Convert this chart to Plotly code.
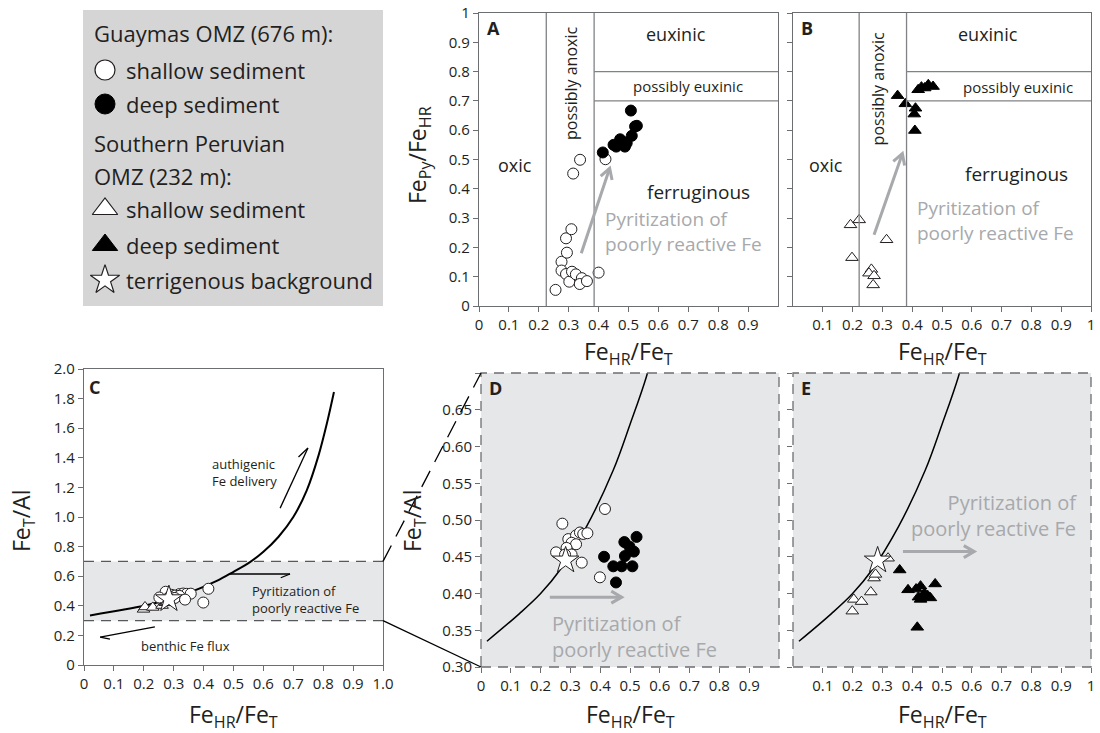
import math
import plotly.graph_objects as go

# ---------------- data ----------------
# Panel A: Guaymas OMZ, Fe_HR/Fe_T (x) vs Fe_Py/Fe_HR (y)
gu_shallow_A_x = [0.256, 0.276, 0.276, 0.291, 0.309, 0.294, 0.291, 0.302, 0.311, 0.324, 0.344, 0.337, 0.361, 0.400, 0.315, 0.338, 0.423]
gu_shallow_A_y = [0.055, 0.151, 0.121, 0.231, 0.262, 0.182, 0.109, 0.083, 0.117, 0.108, 0.095, 0.075, 0.085, 0.114, 0.452, 0.499, 0.501]
gu_deep_A_x = [0.414, 0.450, 0.459, 0.472, 0.481, 0.488, 0.494, 0.508, 0.511, 0.522, 0.528]
gu_deep_A_y = [0.524, 0.550, 0.544, 0.569, 0.561, 0.544, 0.556, 0.667, 0.581, 0.613, 0.615]

# Panel B: Southern Peruvian OMZ
pe_shallow_B_x = [0.193, 0.222, 0.198, 0.314, 0.263, 0.255, 0.272, 0.269]
pe_shallow_B_y = [0.277, 0.294, 0.165, 0.226, 0.125, 0.112, 0.103, 0.072]
pe_deep_B_x = [0.351, 0.377, 0.411, 0.407, 0.409, 0.420, 0.431, 0.442, 0.454, 0.470]
pe_deep_B_y = [0.718, 0.690, 0.675, 0.655, 0.599, 0.738, 0.747, 0.744, 0.755, 0.749]

# Panels C-E: Fe_HR/Fe_T (x) vs Fe_T/Al (y)
gu_shallow_D_x = [0.273, 0.416, 0.252, 0.293, 0.319, 0.332, 0.343, 0.357, 0.304, 0.319, 0.287, 0.304, 0.338, 0.399, 0.282]
gu_shallow_D_y = [0.495, 0.515, 0.456, 0.474, 0.479, 0.483, 0.481, 0.482, 0.469, 0.467, 0.462, 0.453, 0.442, 0.422, 0.453]
gu_deep_D_x = [0.413, 0.444, 0.472, 0.481, 0.498, 0.513, 0.522, 0.483, 0.508, 0.453]
gu_deep_D_y = [0.450, 0.437, 0.437, 0.470, 0.464, 0.457, 0.477, 0.451, 0.437, 0.415]
pe_shallow_E_x = [0.199, 0.204, 0.230, 0.261, 0.272, 0.277, 0.319]
pe_shallow_E_y = [0.376, 0.392, 0.389, 0.402, 0.421, 0.426, 0.448]
pe_deep_E_x = [0.358, 0.386, 0.413, 0.428, 0.421, 0.436, 0.452, 0.461, 0.477, 0.428, 0.417, 0.441]
pe_deep_E_y = [0.432, 0.405, 0.406, 0.410, 0.395, 0.396, 0.397, 0.394, 0.413, 0.392, 0.354, 0.400]
background_x = [0.284]
background_y = [0.445]

# model curve
curve_x = [0.02, 0.13, 0.2, 0.265, 0.354, 0.444, 0.5, 0.555, 0.6, 0.65, 0.7, 0.745, 0.785, 0.812, 0.836]
curve_y = [0.335, 0.373, 0.40, 0.432, 0.491, 0.568, 0.63, 0.695, 0.765, 0.865, 1.0, 1.18, 1.42, 1.63, 1.845]

# tick labels
tick_01_vals = [0, 0.1, 0.2, 0.3, 0.4, 0.5, 0.6, 0.7, 0.8, 0.9, 1.0]
tick_01_text = ["0", "0.1", "0.2", "0.3", "0.4", "0.5", "0.6", "0.7", "0.8", "0.9", "1"]
tick_C_x_text = ["0", "0.1", "0.2", "0.3", "0.4", "0.5", "0.6", "0.7", "0.8", "0.9", "1.0"]
tick_C_y_vals = [0, 0.2, 0.4, 0.6, 0.8, 1.0, 1.2, 1.4, 1.6, 1.8, 2.0]
tick_C_y_text = ["0", "0.2", "0.4", "0.6", "0.8", "1.0", "1.2", "1.4", "1.6", "1.8", "2.0"]
tick_D_y_vals = [0.30, 0.35, 0.40, 0.45, 0.50, 0.55, 0.60, 0.65, 0.70]
tick_D_y_text = ["0.30", "0.35", "0.40", "0.45", "0.50", "0.55", "0.60", "0.65", ""]

# ---------------- styling ----------------
W, H = 1100, 733
FONT = "Open Sans"
TXT = "#231f20"
FRAME = "#6d6e71"
REGION = "#808285"
GREYTXT = "#a7a9ac"
FILL = "#e6e7e8"


def px(x):
    return x / W


def py(y):
    return 1 - y / H


dom = {
    "A": ([px(479), px(778)], [py(306), py(13)]),
    "B": ([px(793), px(1091)], [py(306), py(13)]),
    "C": ([px(84), px(383)], [py(665), py(369)]),
    "D": ([px(481), px(779)], [py(667), py(373)]),
    "E": ([px(793), px(1091)], [py(667), py(373)]),
}
ranges = {"A": ([0, 1], [0, 1]), "B": ([0, 1], [0, 1]), "C": ([0, 1], [0, 2]),
          "D": ([0, 1], [0.3, 0.7]), "E": ([0, 1], [0.3, 0.7])}
axname = {"A": ("x", "y"), "B": ("x2", "y2"), "C": ("x3", "y3"), "D": ("x4", "y4"), "E": ("x5", "y5")}
# pixels per data unit for each panel
ppu = {}
for k in dom:
    (xd, yd), (xr, yr) = dom[k], ranges[k]
    ppu[k] = ((xd[1] - xd[0]) * W / (xr[1] - xr[0]), (yd[1] - yd[0]) * H / (yr[1] - yr[0]))

fig = go.Figure()

MS = 11
open_circle = dict(symbol="circle", size=MS, color="white", line=dict(color=TXT, width=1))
fill_circle = dict(symbol="circle", size=MS, color="black", line=dict(color="black", width=1))
open_tri = dict(symbol="triangle-up", size=MS, color="white", line=dict(color=TXT, width=1))
fill_tri = dict(symbol="triangle-up", size=MS, color="black", line=dict(color="black", width=1))
star = dict(symbol="star", size=20, color="white", line=dict(color=TXT, width=1))


def pts(x, y, marker, xa, ya):
    fig.add_trace(go.Scatter(x=x, y=y, mode="markers", marker=marker, xaxis=xa, yaxis=ya,
                             showlegend=False, hoverinfo="skip", cliponaxis=False))


def curve(xa, ya, w):
    fig.add_trace(go.Scatter(x=curve_x, y=curve_y, mode="lines",
                             line=dict(color="black", width=w, shape="spline", smoothing=1.0),
                             xaxis=xa, yaxis=ya, showlegend=False, hoverinfo="skip"))


# Panel A
pts(gu_shallow_A_x, gu_shallow_A_y, open_circle, "x", "y")
pts(gu_deep_A_x, gu_deep_A_y, fill_circle, "x", "y")
# Panel B
pts(pe_shallow_B_x, pe_shallow_B_y, open_tri, "x2", "y2")
pts(pe_deep_B_x, pe_deep_B_y, fill_tri, "x2", "y2")
# Panel C
curve("x3", "y3", 2)
pts(pe_shallow_E_x, pe_shallow_E_y, open_tri, "x3", "y3")
pts(gu_shallow_D_x, gu_shallow_D_y, open_circle, "x3", "y3")
pts(background_x, background_y, star, "x3", "y3")
# Panel D
curve("x4", "y4", 1.5)
pts(gu_shallow_D_x, gu_shallow_D_y, open_circle, "x4", "y4")
pts(gu_deep_D_x, gu_deep_D_y, fill_circle, "x4", "y4")
pts(background_x, background_y, star, "x4", "y4")
# Panel E
curve("x5", "y5", 1.5)
pts(pe_shallow_E_x, pe_shallow_E_y, open_tri, "x5", "y5")
pts(pe_deep_E_x, pe_deep_E_y, fill_tri, "x5", "y5")
pts(background_x, background_y, star, "x5", "y5")

# Legend markers on a hidden pixel-like axis
leg_sym_x = [105, 105, 105, 105, 105]
leg_sym_y = [70, 104, 209, 245, 280]
leg_markers = [
    dict(symbol="circle", size=20, color="white", line=dict(color=TXT, width=1.2)),
    dict(symbol="circle", size=20, color="black", line=dict(color="black", width=1)),
    dict(symbol="triangle-up", size=22, color="white", line=dict(color=TXT, width=1.2)),
    dict(symbol="triangle-up", size=22, color="black", line=dict(color="black", width=1)),
    dict(symbol="star", size=22, color="white", line=dict(color=TXT, width=1.2)),
]
for lx, ly, m in zip(leg_sym_x, leg_sym_y, leg_markers):
    pts([lx], [ly], m, "x6", "y6")

tickfont = dict(family=FONT, size=15, color=TXT)


def axis(d, rng, tv, tt, anchor, labels=True, line=True, mirror=True, ticks="outside"):
    return dict(domain=d, range=rng, tickvals=tv, ticktext=tt, anchor=anchor, showticklabels=labels,
                showline=line, mirror=mirror, linecolor=FRAME, linewidth=1.3, ticks=ticks, ticklen=5,
                tickcolor=FRAME, tickwidth=1.2, showgrid=False, zeroline=False, tickfont=tickfont,
                automargin=False, fixedrange=True)


layout = dict(
    width=W, height=H, margin=dict(l=0, r=0, t=0, b=0), paper_bgcolor="white", plot_bgcolor="rgba(0,0,0,0)",
    font=dict(family=FONT, color=TXT),
    xaxis=axis(dom["A"][0], ranges["A"][0], tick_01_vals[:-1], tick_01_text[:-1], "y"),
    yaxis=axis(dom["A"][1], ranges["A"][1], tick_01_vals, tick_01_text, "x"),
    xaxis2=axis(dom["B"][0], ranges["B"][0], tick_01_vals[1:], tick_01_text[1:], "y2"),
    yaxis2=axis(dom["B"][1], ranges["B"][1], tick_01_vals, tick_01_text, "x2", labels=False),
    xaxis3=axis(dom["C"][0], ranges["C"][0], tick_01_vals, tick_C_x_text, "y3"),
    yaxis3=axis(dom["C"][1], ranges["C"][1], tick_C_y_vals, tick_C_y_text, "x3"),
    xaxis4=axis(dom["D"][0], ranges["D"][0], tick_01_vals[:-1], tick_01_text[:-1], "y4", line=False),
    yaxis4=axis(dom["D"][1], ranges["D"][1], tick_D_y_vals, tick_D_y_text, "x4", line=False),
    xaxis5=axis(dom["E"][0], ranges["E"][0], tick_01_vals[1:], tick_01_text[1:], "y5", line=False),
    yaxis5=axis(dom["E"][1], ranges["E"][1], tick_D_y_vals, tick_D_y_text, "x5", labels=False, line=False),
    xaxis6=dict(domain=[px(83), px(383)], range=[83, 383], visible=False, anchor="y6", fixedrange=True),
    yaxis6=dict(domain=[py(306), py(10)], range=[306, 10], visible=False, anchor="x6", fixedrange=True),
)
fig.update_layout(**layout)

shapes = []
# legend background
shapes.append(dict(type="rect", xref="paper", yref="paper", x0=px(83), x1=px(383), y0=py(306), y1=py(10),
                   fillcolor="#d5d5d6", line=dict(width=0), layer="below"))
# regions in A and B
for xa, ya, v1, v2 in [("x", "y", 0.225, 0.385), ("x2", "y2", 0.222, 0.381)]:
    for v in (v1, v2):
        shapes.append(dict(type="line", xref=xa, yref=ya, x0=v, x1=v, y0=0, y1=1, line=dict(color=REGION, width=1.3)))
    for h in (0.7, 0.8):
        shapes.append(dict(type="line", xref=xa, yref=ya, x0=v2, x1=1, y0=h, y1=h, line=dict(color=REGION, width=1.3)))
# C band
shapes.append(dict(type="rect", xref="x3", yref="y3", x0=0, x1=1, y0=0.3, y1=0.7, fillcolor=FILL,
                   line=dict(width=0), layer="below"))
for h in (0.3, 0.7):
    shapes.append(dict(type="line", xref="x3", yref="y3", x0=0, x1=1, y0=h, y1=h,
                       line=dict(color="#58595b", width=1.3, dash="10px,7px")))
# D, E dashed frames
for xa, ya in [("x4", "y4"), ("x5", "y5")]:
    shapes.append(dict(type="rect", xref=xa + " domain", yref=ya + " domain", x0=0, x1=1, y0=0, y1=1,
                       fillcolor=FILL, line=dict(width=0), layer="below"))
    shapes.append(dict(type="rect", xref=xa + " domain", yref=ya + " domain", x0=0, x1=1, y0=0, y1=1,
                       line=dict(color=FRAME, width=1.3, dash="10px,7px")))
# connectors C -> D
cx = dom["C"][0][1]
cy0, cy1 = dom["C"][1]
c_top = cy0 + (0.7 / 2.0) * (cy1 - cy0)
c_bot = cy0 + (0.3 / 2.0) * (cy1 - cy0)
dx = dom["D"][0][0]
shapes.append(dict(type="line", xref="paper", yref="paper", x0=cx, y0=c_top, x1=dx, y1=dom["D"][1][1],
                   line=dict(color="black", width=1.3, dash="18px,10px")))
shapes.append(dict(type="line", xref="paper", yref="paper", x0=cx, y0=c_bot, x1=dx, y1=dom["D"][1][0],
                   line=dict(color="black", width=1.3)))


def arrow(panel, x0, y0, x1, y1, color, width, head, side="both", ang=30):
    xa, ya = axname[panel]
    shapes.append(dict(type="line", xref=xa, yref=ya, x0=x0, y0=y0, x1=x1, y1=y1,
                       line=dict(color=color, width=width)))
    sx, sy = ppu[panel]
    ddx, ddy = (x1 - x0) * sx, (y1 - y0) * sy
    n = math.hypot(ddx, ddy)
    bx, by = -ddx / n, -ddy / n
    a = math.radians(ang)

    def rot(t):
        return (head * (bx * math.cos(t) - by * math.sin(t)), head * (bx * math.sin(t) + by * math.cos(t)))

    left = rot(-a)
    right = rot(a)
    if side == "both":
        path = "M%.2f,%.2f L0,0 L%.2f,%.2f" % (left[0], left[1], right[0], right[1])
    elif side == "left":
        path = "M%.2f,%.2f L0,0" % left
    else:
        path = "M%.2f,%.2f L0,0" % right
    shapes.append(dict(type="path", xref=xa, yref=ya, xsizemode="pixel", ysizemode="pixel",
                       xanchor=x1, yanchor=y1, path=path, line=dict(color=color, width=width)))


# grey arrows
arrow("A", 0.342, 0.18, 0.437, 0.47, GREYTXT, 3, 12)
arrow("B", 0.272, 0.243, 0.367, 0.52, GREYTXT, 3, 12)
arrow("D", 0.231, 0.395, 0.472, 0.395, GREYTXT, 3, 12)
arrow("E", 0.369, 0.457, 0.608, 0.457, GREYTXT, 3, 12)
# black harpoons in C
arrow("C", 0.656, 1.06, 0.749, 1.466, "black", 1.3, 13, side="left", ang=22)
arrow("C", 0.488, 0.615, 0.689, 0.615, "black", 1.3, 10, side="right", ang=22)
arrow("C", 0.237, 0.257, 0.054, 0.189, "black", 1.3, 10, side="left", ang=22)

fig.update_layout(shapes=shapes)

ann = []


def text(t, x, y, xr, yr, size, color=TXT, xanchor="center", yanchor="middle", angle=0, bold=False, align="left"):
    if bold:
        t = "<b>" + t + "</b>"
    ann.append(dict(text=t, x=x, y=y, xref=xr, yref=yr, showarrow=False, xanchor=xanchor, yanchor=yanchor,
                    textangle=angle, align=align, font=dict(family=FONT, size=size, color=color)))


# legend text
for t, lx, ly in [("Guaymas OMZ (676 m):", 92, 33), ("shallow sediment", 124, 70), ("deep sediment", 124, 104),
                  ("Southern Peruvian", 92, 143), ("OMZ (232 m):", 92, 176), ("shallow sediment", 124, 209),
                  ("deep sediment", 124, 245), ("terrigenous background", 124, 280)]:
    text(t, lx, ly, "x6", "y6", 22, xanchor="left")

# panel A
text("A", 0.02, 0.95, "x", "y", 18, xanchor="left", bold=True)
text("euxinic", 0.66, 0.93, "x", "y", 18)
text("possibly euxinic", 0.70, 0.75, "x", "y", 15)
text("possibly anoxic", 0.31, 0.76, "x", "y", 16, angle=-90)
text("oxic", 0.12, 0.48, "x", "y", 18)
text("ferruginous", 0.735, 0.39, "x", "y", 19)
text("Pyritization of<br>poorly reactive Fe", 0.415, 0.253, "x", "y", 19, color=GREYTXT, xanchor="left")
# panel B
text("B", 0.02, 0.95, "x2", "y2", 18, xanchor="left", bold=True)
text("euxinic", 0.655, 0.93, "x2", "y2", 18)
text("possibly euxinic", 0.755, 0.747, "x2", "y2", 15)
text("possibly anoxic", 0.286, 0.74, "x2", "y2", 16, angle=-90)
text("oxic", 0.112, 0.48, "x2", "y2", 18)
text("ferruginous", 0.75, 0.45, "x2", "y2", 19)
text("Pyritization of<br>poorly reactive Fe", 0.41, 0.292, "x2", "y2", 19, color=GREYTXT, xanchor="left")
# panel C
text("C", 0.01, 1.88, "x3", "y3", 18, xanchor="left", bold=True)
text("authigenic<br>Fe delivery", 0.42, 1.30, "x3", "y3", 13, xanchor="left")
text("Pyritization of<br>poorly reactive Fe", 0.555, 0.44, "x3", "y3", 13, xanchor="left")
text("benthic Fe flux", 0.185, 0.128, "x3", "y3", 13, xanchor="left")
# panel D
text("D", 0.02, 0.68, "x4", "y4", 18, xanchor="left", bold=True)
text("Pyritization of<br>poorly reactive Fe", 0.232, 0.341, "x4", "y4", 20, color=GREYTXT, xanchor="left")
# panel E
text("E", 0.02, 0.68, "x5", "y5", 18, xanchor="left", bold=True)
text("Pyritization of<br>poorly reactive Fe", 0.96, 0.506, "x5", "y5", 20, color=GREYTXT, xanchor="right", align="right")

# axis titles
xt = "Fe<sub>HR</sub>/Fe<sub>T</sub>"
text("Fe<sub>Py</sub>/Fe<sub>HR</sub>", px(418), py(155), "paper", "paper", 23, angle=-90)
text(xt, px(628), py(352), "paper", "paper", 23)
text(xt, px(942), py(352), "paper", "paper", 23)
text("Fe<sub>T</sub>/Al", px(22), py(521), "paper", "paper", 23, angle=-90)
text(xt, px(233), py(715), "paper", "paper", 23)
text("Fe<sub>T</sub>/Al", px(413), py(521), "paper", "paper", 23, angle=-90)
text(xt, px(630), py(715), "paper", "paper", 23)
text(xt, px(942), py(715), "paper", "paper", 23)

fig.update_layout(annotations=ann)
fig.write_html("out.html")
